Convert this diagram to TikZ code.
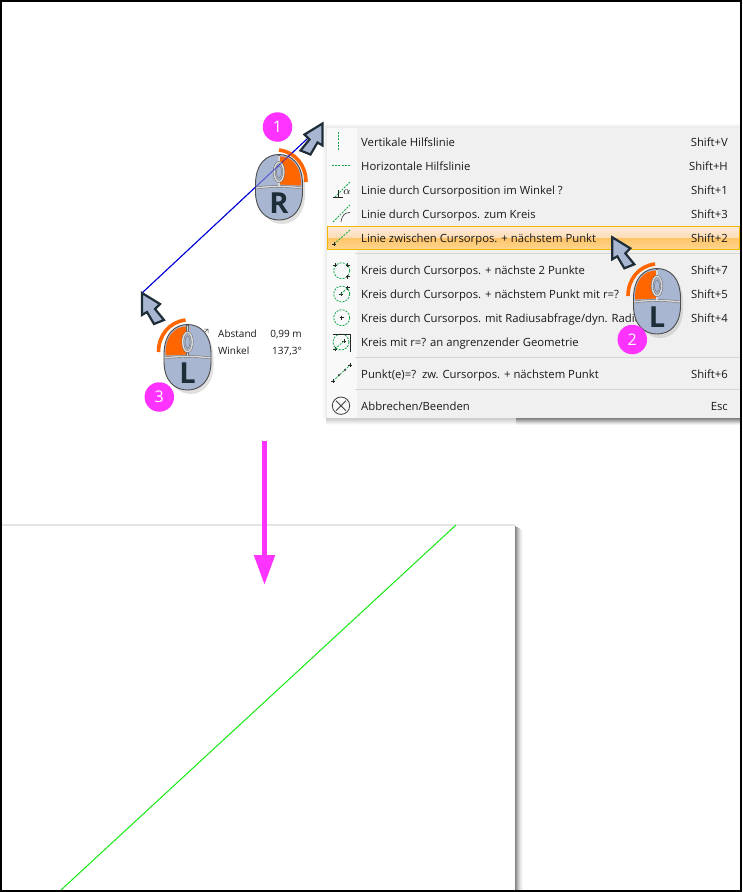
\documentclass[tikz,border=0pt]{standalone}
\usepackage{fontspec}
\setmainfont{Open Sans}
\usetikzlibrary{calc,arrows.meta}
\definecolor{mgrey}{HTML}{A9B6D1}
\definecolor{morange}{HTML}{FF6600}
\definecolor{mdark}{HTML}{1F2D38}
\definecolor{mpink}{HTML}{FF33FF}
\definecolor{menubg}{HTML}{F0F0F0}
\definecolor{iconbg}{HTML}{F9F9F9}
\definecolor{igreen}{HTML}{12A84B}
\definecolor{lgreen}{HTML}{14E814}
\definecolor{hla}{HTML}{FBEADA}
\definecolor{hlb}{HTML}{FDDCB2}
\definecolor{hlc}{HTML}{FFC468}
\definecolor{hld}{HTML}{FFD58E}
\definecolor{hlb2}{HTML}{F5B800}
\tikzset{
  x=1pt,y=-1pt,
  menutext/.style={anchor=base west,font=\fontsize{11.3}{13}\selectfont,inner sep=0pt,text=black!90},
  keytext/.style={anchor=base east,font=\fontsize{11.3}{13}\selectfont,inner sep=0pt,text=black!90},
  infotext/.style={font=\fontsize{10}{12}\selectfont,inner sep=0pt,text=black!90},
  badge/.style={circle,fill=mpink,text=white,minimum size=29.5pt,inner sep=0pt,font=\fontsize{16}{18}\selectfont},
  mouseletter/.style={font=\bfseries\fontsize{29}{29}\selectfont,text=mdark,inner sep=0pt},
  sepline/.style={draw=black!16,line width=1pt},
  ig/.style={draw=igreen,line width=.8pt,dash pattern=on 2pt off 1.2pt},
  ik/.style={draw=black!85,line width=.55pt},
  pics/cursor/.style={code={
    \draw[fill=mgrey,draw=mdark,line width=2.2pt,line join=miter]
      (0,0) -- (18,11) -- (13,16) -- (22,27) -- (12,31) -- (5,19) -- (0,22) -- cycle;
  }},
  pics/mousebody/.style={code={
    \fill[black!30,opacity=.4] (-20,5) .. controls (-21,27) and (-9,37) .. (3,37) .. controls (15,37) and (27,27) .. (26,5) .. controls (27,-20) and (15,-29) .. (3,-29) .. controls (-9,-29) and (-21,-20) .. (-20,5) -- cycle;
    \path[fill=mgrey,draw=black!70,line width=.9pt]
      (-23.5,1) .. controls (-24.5,-24) and (-12,-32.5) .. (0,-32.5) .. controls (12,-32.5) and (24.5,-24) .. (23.5,1) .. controls (24.5,25) and (12,33) .. (0,33) .. controls (-12,33) and (-24.5,25) .. (-23.5,1) -- cycle;
  }},
  pics/mouseleft/.style={code={
    \fill[morange] (-1,-30.5) .. controls (-12,-30.5) and (-22.5,-22) .. (-22,-1.5) -- (-1,-2.5) -- cycle;
    \draw[morange,line width=3.6pt] (-29,-5) .. controls (-29,-22) and (-18,-35) .. (-2,-37);
  }},
  pics/mouseright/.style={code={
    \fill[morange] (1,-30.5) .. controls (12,-30.5) and (22.5,-22) .. (22,-1.5) -- (1,-2.5) -- cycle;
    \draw[morange,line width=3.6pt] (0,-37) .. controls (16,-35) and (27,-22) .. (27,-5);
  }},
  pics/mousedeco/.style={code={
    \draw[black!60,line width=2.3pt] (-23,1) .. controls (-10,-1) and (10,-1) .. (23,1);
    \draw[black!60,line width=2.3pt] (0,-32) -- (0,-1);
    \draw[white!85!black,line width=1.4pt] (-23,1) .. controls (-10,-1) and (10,-1) .. (23,1);
    \draw[white!85!black,line width=1.4pt] (0,-31.5) -- (0,-.5);
    \draw[fill=mgrey,draw=black!60,line width=2.4pt] (0,-15) ellipse[x radius=4.8,y radius=9.6];
    \draw[white!85!black,line width=1.5pt] (0,-15) ellipse[x radius=4.8,y radius=9.6];
    \draw[black!55,line width=.45pt] (0,-15) ellipse[x radius=2.4,y radius=6.2];
  }}
}
\begin{document}
\begin{tikzpicture}
\useasboundingbox (0,0) rectangle (742,892);
\fill[white] (0,0) rectangle (742,892);

% sheet with green line
\fill[black!10] (0,523.5) rectangle (515,525.5);
\foreach \o/\c in {0/48,1/40,2/31,3/23,4/16,5/10,6/6,7/3}{
  \fill[black!\c] (515+\o,526+\o*.6) rectangle (516+\o,890);
}
\coordinate (ga) at (456,525);
\coordinate (gb) at (61,890);
\draw[lgreen,line width=1pt] (ga) -- (gb);

% pink arrow
\coordinate (pa) at (264.5,440.5);
\coordinate (pb) at (264.5,585);
\draw[mpink,line width=5pt,-{Triangle[length=30pt,width=20pt,fill=mpink]}] (pa) -- (pb);

% menu shadow
\foreach \o/\c in {4/2,3/4,2/6,1/8}{
  \fill[black!\c] (327-\o,128-\o) rectangle (740,418);
}
\foreach \o/\cl/\cr in {0/20/50,1/18/43,2/15/35,3/12/27,4/8/19,5/5/11,6/2/5}{
  \fill[black!\cl] (326,418+\o) rectangle (516,419+\o);
  \fill[black!\cr] (516,418+\o) rectangle (740,419+\o);
}
\fill[menubg] (327,128) rectangle (740,418);
\fill[iconbg] (327,128) rectangle (357,418);
\draw[sepline] (355,253.5) -- (740,253.5);
\draw[sepline] (355,357.5) -- (740,357.5);
\draw[sepline] (355,389.5) -- (740,389.5);

% highlight
\shade[top color=hla,bottom color=hlb] (327.5,227) rectangle (739,238);
\shade[top color=hlc,bottom color=hld] (327.5,238) rectangle (739,249);
\draw[hlb2,line width=.9pt] (327.5,226.8) rectangle (739,249);

% icons
\draw[ig] (338.4,132) -- (338.4,150);
\draw[ig] (332,165.3) -- (351,165.3);
\draw[ig] (335,197) -- (350,182);
\draw[ik] (333,197) -- (343,197) (338,190) -- (338,197);
\node[inner sep=0pt,font=\fontsize{11}{11}\selectfont] (ialpha) at (347,192.5) {$\alpha$};
\draw[ig] (333,222) -- (350,205);
\draw[ik] (341,222) .. controls (342,215) and (345,212.5) .. (350,212.5);
\draw[ig] (334,244) -- (350,230);
\draw[ik] (332,244) -- (336,244) (334,242) -- (334,246);
% circles
\draw[ig] (341.7,270.7) circle[radius=8];
\draw[ik] (333,265) -- (337,265) (335,263) -- (335,267) (345.7,265) -- (349.7,265) (347.7,263) -- (347.7,267) (345.7,276.7) -- (349.7,276.7) (347.7,274.7) -- (347.7,278.7);
\draw[ig] (341.7,294) circle[radius=8];
\draw[ik] (339,294) -- (343,294) (341,292) -- (341,296) (345.7,287.7) -- (349.7,287.7) (347.7,285.7) -- (347.7,289.7);
\draw[ig] (341,294) -- (347.7,287.7);
\draw[ig] (341.7,317.7) circle[radius=8];
\draw[ik] (339.7,317.7) -- (343.7,317.7) (341.7,315.7) -- (341.7,319.7);
\draw[ig] (341,342) circle[radius=8];
\draw[ik] (333.3,334) -- (350.7,334) -- (350.7,351.7) (333,349) -- (337,349) (335,347) -- (335,351) (342,341) -- (346,341) (344,339) -- (344,343);
\draw[ig] (335,349) -- (344,341);
\draw[ig] (333,381) -- (350,365);
\draw[ik] (331,381) -- (335,381) (333,379) -- (333,383) (348,365) -- (352,365) (350,363) -- (350,367);
\fill[black!80] (339,375) circle[radius=1.2] (345,370) circle[radius=1.2];
\node[circle,draw=black!75,line width=.8pt,minimum size=17.4pt,inner sep=0pt] (iabort) at (341,405.7) {};
\draw[black!75,line width=.8pt] (336,400.7) -- (346,410.7) (346,400.7) -- (336,410.7);

% menu entries
\foreach \y/\t/\k in {
  146/{Vertikale Hilfslinie}/{Shift+V},
  170/{Horizontale Hilfslinie}/{Shift+H},
  194/{Linie durch Cursorposition im Winkel ?}/{Shift+1},
  218/{Linie durch Cursorpos. zum Kreis}/{Shift+3},
  242/{Linie zwischen Cursorpos. + nächstem Punkt}/{Shift+2},
  274/{Kreis durch Cursorpos. + nächste 2 Punkte}/{Shift+7},
  298/{Kreis durch Cursorpos. + nächstem Punkt mit r=?}/{Shift+5},
  322/{Kreis durch Cursorpos. mit Radiusabfrage/dyn. Radius}/{Shift+4},
  346/{Kreis mit r=? an angrenzender Geometrie}/{},
  378/{Punkt(e)=?\ \ zw. Cursorpos. + nächstem Punkt}/{Shift+6},
  410/{Abbrechen/Beenden}/{Esc}}{
  \node[menutext] at (361,\y) {\t};
  \node[keytext] at (728,\y) {\k};
}

% blue line
\coordinate (ba) at (142,293);
\coordinate (bb) at (322,125);
\draw[blue!85!black,line width=1pt] (ba) -- (bb);

% mouse R
\begin{scope}[shift={(279,187)}]
  \pic {mousebody}; \pic {mouseright}; \pic {mousedeco};
  \node[mouseletter] (mr) at (0,16) {R};
\end{scope}
\draw[blue!85!black,line width=1pt,opacity=.5] (ba) -- (bb);

% cursors
\pic at (322.5,123.5) [xscale=-1] {cursor};
\pic at (612.3,237.3) {cursor};
\pic at (142,293) {cursor};

% mouse L 2
\begin{scope}[shift={(657,301)}]
  \pic {mousebody}; \pic {mouseleft}; \pic {mousedeco};
  \node[mouseletter] (ml) at (0,16) {L};
\end{scope}
% mouse L 3
\draw[black!70,line width=.5pt] (202,335) -- (208,329) (204,329) -- (208,329) -- (208,333);
\begin{scope}[shift={(187.5,357)}]
  \pic {mousebody}; \pic {mouseleft}; \pic {mousedeco};
  \node[mouseletter] (mk) at (0,16) {L};
\end{scope}

% info
\node[infotext,anchor=base west] (ia) at (218,337) {Abstand};
\node[infotext,anchor=base east] (ib) at (302,337) {0,99 m};
\node[infotext,anchor=base west] (ic) at (218,354) {Winkel};
\node[infotext,anchor=base east] (id) at (302,354) {137,3°};

% badges
\node[badge] (b1) at (277.5,127) {1};
\node[badge] (b2) at (632.3,339.5) {2};
\node[badge] (b3) at (159.3,397) {3};

% frame
\draw[black,line width=2pt] (1,1) rectangle (741,891);
\end{tikzpicture}
\end{document}
